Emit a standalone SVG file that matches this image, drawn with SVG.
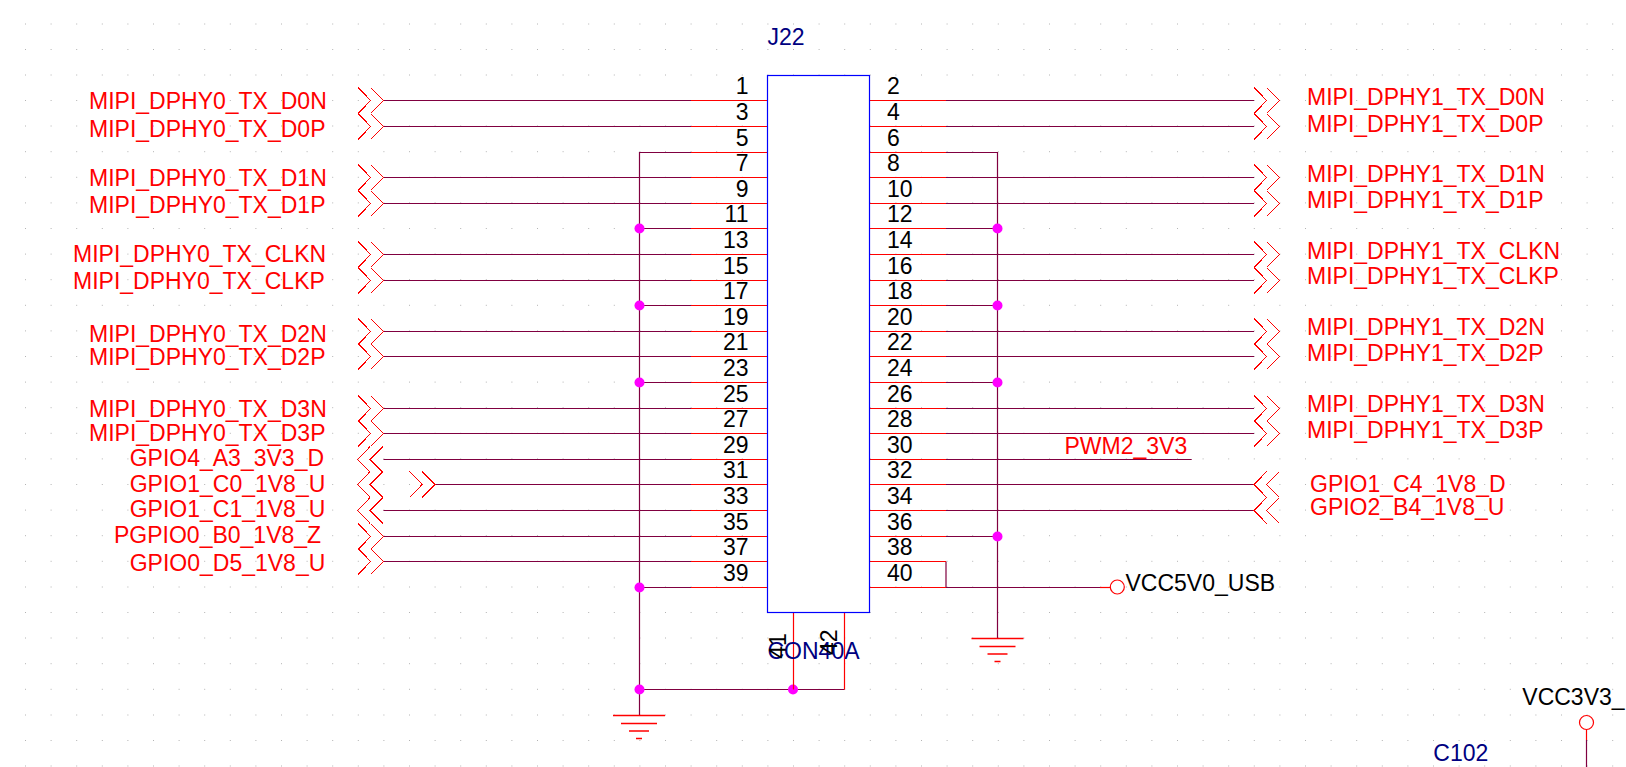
<svg xmlns="http://www.w3.org/2000/svg" width="1626" height="767" viewBox="0 0 1626 767">
<style>
text{font-family:"Liberation Sans",Arial,sans-serif;font-size:23px}
.r{fill:#ff0000}.k{fill:#000000}.b{fill:#000080}
.n{fill:#000000}.e{text-anchor:end}
.w{fill:none;stroke:#800040;stroke-width:1.2}
.p{fill:none;stroke:#ff0000;stroke-width:1.2}
.c{fill:none;stroke:#ff0000;stroke-width:1;shape-rendering:crispEdges}
.g{fill:none;stroke:#ff0000;stroke-width:1.4}
.j{fill:#ff00ff}
.o{fill:#ffffff;stroke:#ff0000;stroke-width:1.2}
.d{fill:none;stroke:#b4b4b4;stroke-width:1;stroke-dasharray:1 24.6}
</style>
<defs>
<path id="chevR" class="c" d="M0 -13L12.7 0L0 13M12.7 -13L25.4 0L12.7 13"/>
<path id="chevL" class="c" d="M12.7 -13L0 0L12.7 13M25.4 -13L12.7 0L25.4 13"/>
<path id="gnd" class="g" d="M-26 0H26M-18 8H18M-10 15.5H10M-3 23H3"/>
</defs>
<rect width="1626" height="767" fill="#ffffff"/>
<path id="grid" class="d" d="M25 24H1626M25 49.5H1626M25 75H1626M25 100.5H1626M25 126H1626M25 151.7H1626M25 177.3H1626M25 202.9H1626M25 228.5H1626M25 254.1H1626M25 279.7H1626M25 305.3H1626M25 330.9H1626M25 356.5H1626M25 382.1H1626M25 407.7H1626M25 433.3H1626M25 458.9H1626M25 484.5H1626M25 510.1H1626M25 535.7H1626M25 561.3H1626M25 587H1626M25 612.5H1626M25 638H1626M25 663.7H1626M25 689.3H1626M25 715H1626M25 740.5H1626M25 766H1626"/>

<g id="connectors">
<path class="w" d="M383.5 100.5H691M383.5 126.5H691M383.5 177.5H691M383.5 203.5H691M383.5 254.5H691M383.5 280.5H691M383.5 331.5H691M383.5 356.5H691M383.5 408.5H691M383.5 433.5H691M383.5 459.5H691M434.7 484.5H691M383.5 510.5H691M383.5 536.5H691M383.5 561.5H691"/>
<path class="w" d="M946 100.5H1254M946 126.5H1254M946 177.5H1254M946 203.5H1254M946 254.5H1254M946 280.5H1254M946 331.5H1254M946 356.5H1254M946 408.5H1254M946 433.5H1254M946 459.5H1191.7M946 484.5H1254M946 510.5H1254"/>
<path class="w" d="M691 152.5H639.5V715.5M639.5 228.5H691M639.5 305.5H691M639.5 382.5H691M639.5 587.5H691M639.5 689.5H793.5M793.5 689.5H844.5"/>
<path class="w" d="M946 152.5H997.5V638.5M946 228.5H997.5M946 305.5H997.5M946 382.5H997.5M946 536.5H997.5"/>
<path class="w" d="M946 561.5V587.5M946 587.5H1100"/>
<path class="p" d="M1100 587.5H1110"/>
<path class="w" d="M1586.5 740V767"/>
<path class="p" d="M1586.5 729.5V740"/>
<circle class="j" cx="639.5" cy="228.5" r="5"/>
<circle class="j" cx="639.5" cy="305.5" r="5"/>
<circle class="j" cx="639.5" cy="382.5" r="5"/>
<circle class="j" cx="639.5" cy="587.5" r="5"/>
<circle class="j" cx="639.5" cy="689.5" r="5"/>
<circle class="j" cx="793" cy="689.5" r="5"/>
<circle class="j" cx="997.5" cy="228.5" r="5"/>
<circle class="j" cx="997.5" cy="305.5" r="5"/>
<circle class="j" cx="997.5" cy="382.5" r="5"/>
<circle class="j" cx="997.5" cy="536.5" r="5"/>
</g>

<g id="J22">
<path class="p" d="M691 100.5H767.5M691 126.5H767.5M691 152.5H767.5M691 177.5H767.5M691 203.5H767.5M691 228.5H767.5M691 254.5H767.5M691 280.5H767.5M691 305.5H767.5M691 331.5H767.5M691 356.5H767.5M691 382.5H767.5M691 408.5H767.5M691 433.5H767.5M691 459.5H767.5M691 484.5H767.5M691 510.5H767.5M691 536.5H767.5M691 561.5H767.5M691 587.5H767.5"/>
<path class="p" d="M869.5 100.5H946M869.5 126.5H946M869.5 152.5H946M869.5 177.5H946M869.5 203.5H946M869.5 228.5H946M869.5 254.5H946M869.5 280.5H946M869.5 305.5H946M869.5 331.5H946M869.5 356.5H946M869.5 382.5H946M869.5 408.5H946M869.5 433.5H946M869.5 459.5H946M869.5 484.5H946M869.5 510.5H946M869.5 536.5H946M869.5 561.5H946M869.5 587.5H946"/>
<path class="p" d="M793.5 612.5V689.5M844.5 612.5V689.5"/>
<rect x="767.5" y="75.5" width="102" height="537" fill="#ffffff" stroke="#0000ff" stroke-width="1.2"/>
<text class="b" x="767.5" y="45">J22</text>
<text class="b" x="767.5" y="658.7">CON40A</text>
<text class="n" transform="translate(786 658.7) rotate(-90)">41</text>
<text class="n" transform="translate(837 655) rotate(-90)">42</text>
<g class="pins">
<text class="n e" x="748.5" y="94.2">1</text>
<text class="n e" x="748.5" y="120.2">3</text>
<text class="n e" x="748.5" y="146.2">5</text>
<text class="n e" x="748.5" y="171.2">7</text>
<text class="n e" x="748.5" y="197.2">9</text>
<text class="n e" x="748.5" y="222.2">11</text>
<text class="n e" x="748.5" y="248.2">13</text>
<text class="n e" x="748.5" y="274.2">15</text>
<text class="n e" x="748.5" y="299.2">17</text>
<text class="n e" x="748.5" y="325.2">19</text>
<text class="n e" x="748.5" y="350.2">21</text>
<text class="n e" x="748.5" y="376.2">23</text>
<text class="n e" x="748.5" y="402.2">25</text>
<text class="n e" x="748.5" y="427.2">27</text>
<text class="n e" x="748.5" y="453.2">29</text>
<text class="n e" x="748.5" y="478.2">31</text>
<text class="n e" x="748.5" y="504.2">33</text>
<text class="n e" x="748.5" y="530.2">35</text>
<text class="n e" x="748.5" y="555.2">37</text>
<text class="n e" x="748.5" y="581.2">39</text>
<text class="n" x="887" y="94.2">2</text>
<text class="n" x="887" y="120.2">4</text>
<text class="n" x="887" y="146.2">6</text>
<text class="n" x="887" y="171.2">8</text>
<text class="n" x="887" y="197.2">10</text>
<text class="n" x="887" y="222.2">12</text>
<text class="n" x="887" y="248.2">14</text>
<text class="n" x="887" y="274.2">16</text>
<text class="n" x="887" y="299.2">18</text>
<text class="n" x="887" y="325.2">20</text>
<text class="n" x="887" y="350.2">22</text>
<text class="n" x="887" y="376.2">24</text>
<text class="n" x="887" y="402.2">26</text>
<text class="n" x="887" y="427.2">28</text>
<text class="n" x="887" y="453.2">30</text>
<text class="n" x="887" y="478.2">32</text>
<text class="n" x="887" y="504.2">34</text>
<text class="n" x="887" y="530.2">36</text>
<text class="n" x="887" y="555.2">38</text>
<text class="n" x="887" y="581.2">40</text>
</g>
</g>

<g id="port-dphy0-d0n"><use href="#chevR" x="358" y="100.5"/><text class="r" x="89" y="109">MIPI_DPHY0_TX_D0N</text></g>
<g id="port-dphy0-d0p"><use href="#chevR" x="358" y="126.5"/><text class="r" x="89" y="137">MIPI_DPHY0_TX_D0P</text></g>
<g id="port-dphy0-d1n"><use href="#chevR" x="358" y="177.5"/><text class="r" x="89" y="186">MIPI_DPHY0_TX_D1N</text></g>
<g id="port-dphy0-d1p"><use href="#chevR" x="358" y="203.5"/><text class="r" x="89" y="213.3">MIPI_DPHY0_TX_D1P</text></g>
<g id="port-dphy0-clkn"><use href="#chevR" x="358" y="254.5"/><text class="r" x="73" y="262">MIPI_DPHY0_TX_CLKN</text></g>
<g id="port-dphy0-clkp"><use href="#chevR" x="358" y="280.5"/><text class="r" x="73" y="289.3">MIPI_DPHY0_TX_CLKP</text></g>
<g id="port-dphy0-d2n"><use href="#chevR" x="358" y="331.5"/><text class="r" x="89" y="342">MIPI_DPHY0_TX_D2N</text></g>
<g id="port-dphy0-d2p"><use href="#chevR" x="358" y="356.5"/><text class="r" x="89" y="365">MIPI_DPHY0_TX_D2P</text></g>
<g id="port-dphy0-d3n"><use href="#chevR" x="358" y="408.5"/><text class="r" x="89" y="416.7">MIPI_DPHY0_TX_D3N</text></g>
<g id="port-dphy0-d3p"><use href="#chevR" x="358" y="433.5"/><text class="r" x="89" y="441">MIPI_DPHY0_TX_D3P</text></g>
<g id="port-gpio4-a3"><use href="#chevL" x="357.5" y="459.5"/><text class="r" x="129.7" y="466">GPIO4_A3_3V3_D</text></g>
<g id="port-gpio1-c0"><use href="#chevL" x="357.5" y="484.5"/><use href="#chevR" x="409.5" y="484.5"/><text class="r" x="129.7" y="492">GPIO1_C0_1V8_U</text></g>
<g id="port-gpio1-c1"><use href="#chevL" x="357.5" y="510.5"/><text class="r" x="129.7" y="517.3">GPIO1_C1_1V8_U</text></g>
<g id="port-pgpio0-b0"><use href="#chevR" x="358" y="536.5"/><text class="r" x="114" y="543.3">PGPIO0_B0_1V8_Z</text></g>
<g id="port-gpio0-d5"><use href="#chevR" x="358" y="561.5"/><text class="r" x="129.7" y="570.7">GPIO0_D5_1V8_U</text></g>

<g id="port-dphy1-d0n"><use href="#chevR" x="1254" y="100.5"/><text class="r" x="1307" y="105.3">MIPI_DPHY1_TX_D0N</text></g>
<g id="port-dphy1-d0p"><use href="#chevR" x="1254" y="126.5"/><text class="r" x="1307" y="131.7">MIPI_DPHY1_TX_D0P</text></g>
<g id="port-dphy1-d1n"><use href="#chevR" x="1254" y="177.5"/><text class="r" x="1307" y="182.3">MIPI_DPHY1_TX_D1N</text></g>
<g id="port-dphy1-d1p"><use href="#chevR" x="1254" y="203.5"/><text class="r" x="1307" y="207.6">MIPI_DPHY1_TX_D1P</text></g>
<g id="port-dphy1-clkn"><use href="#chevR" x="1254" y="254.5"/><text class="r" x="1307" y="259.3">MIPI_DPHY1_TX_CLKN</text></g>
<g id="port-dphy1-clkp"><use href="#chevR" x="1254" y="280.5"/><text class="r" x="1307" y="284">MIPI_DPHY1_TX_CLKP</text></g>
<g id="port-dphy1-d2n"><use href="#chevR" x="1254" y="331.5"/><text class="r" x="1307" y="335.3">MIPI_DPHY1_TX_D2N</text></g>
<g id="port-dphy1-d2p"><use href="#chevR" x="1254" y="356.5"/><text class="r" x="1307" y="361.3">MIPI_DPHY1_TX_D2P</text></g>
<g id="port-dphy1-d3n"><use href="#chevR" x="1254" y="408.5"/><text class="r" x="1307" y="412">MIPI_DPHY1_TX_D3N</text></g>
<g id="port-dphy1-d3p"><use href="#chevR" x="1254" y="433.5"/><text class="r" x="1307" y="438.3">MIPI_DPHY1_TX_D3P</text></g>
<g id="net-pwm2"><text class="r" x="1064.5" y="453.5">PWM2_3V3</text></g>
<g id="port-gpio1-c4"><use href="#chevL" x="1254" y="484.5"/><text class="r" x="1310" y="492">GPIO1_C4_1V8_D</text></g>
<g id="port-gpio2-b4"><use href="#chevL" x="1254" y="510.5"/><text class="r" x="1310" y="515">GPIO2_B4_1V8_U</text></g>

<g id="power-vcc5v0"><circle class="o" cx="1117.3" cy="587" r="7"/><text class="k" x="1125.5" y="591">VCC5V0_USB</text></g>
<g id="power-vcc3v3"><circle class="o" cx="1586.5" cy="722.5" r="7"/><text class="k" x="1522.3" y="704.7">VCC3V3_</text></g>
<g id="gnd-left"><use href="#gnd" x="639" y="715.5"/></g>
<g id="gnd-right"><use href="#gnd" x="997.5" y="638.5"/></g>
<g id="C102"><text class="b" x="1433.3" y="761">C102</text></g>
</svg>
